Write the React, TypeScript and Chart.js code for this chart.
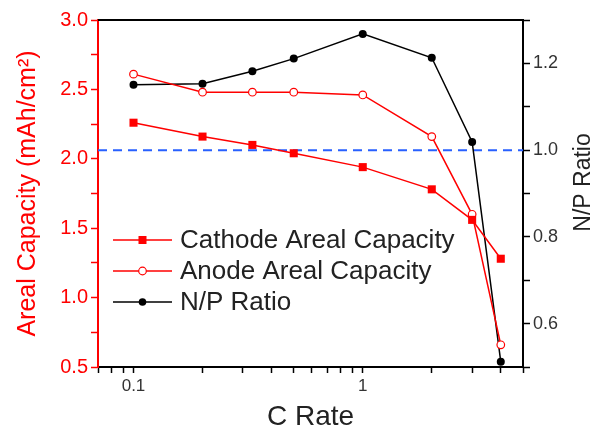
import React, { useEffect, useRef } from 'react';
import { Chart, registerables } from 'chart.js';

Chart.register(...registerables);

// ---- Data ----
const cRates = [0.1, 0.2, 0.33, 0.5, 1, 2, 3, 4];
const cathodeCapacity = [2.26, 2.16, 2.1, 2.04, 1.94, 1.78, 1.56, 1.28];
const anodeCapacity = [2.61, 2.48, 2.48, 2.48, 2.46, 2.16, 1.6, 0.66];
const npRatio = [1.151, 1.153, 1.182, 1.211, 1.268, 1.213, 1.019, 0.512];
const referenceRatio = 1.0;

// ---- Axes / tick labels ----
const xMin = 0.07;
const xMax = 5;
const xTickValues = [0.07, 0.08, 0.09, 0.1, 0.2, 0.3, 0.4, 0.5, 0.6, 0.7, 0.8, 0.9, 1, 2, 3, 4, 5];
const xTickLabels = ['0.1', '1'];
const yLeftMin = 0.5;
const yLeftMax = 3.0;
const yLeftLabels = ['0.5', '1.0', '1.5', '2.0', '2.5', '3.0'];
const yRightMin = 0.5;
const yRightMax = 1.3;
const yRightLabels = ['0.6', '0.8', '1.0', '1.2'];

const seriesNames = ['Cathode Areal Capacity', 'Anode Areal Capacity', 'N/P Ratio'];
const rightTitle = 'N/P Ratio';

const FONT = "'Liberation Sans', Arial, Helvetica, sans-serif";
const RED = '#ff0000';
const BLACK = '#000000';
const BLUE = '#2860ff';
const TEXT = '#222222';

export default function App() {
  const ref = useRef<HTMLCanvasElement>(null);

  useEffect(() => {
    const canvas = ref.current;
    if (!canvas) return;

    const framePlugin = {
      id: 'frameTop',
      afterDraw(chart: any) {
        const { ctx, chartArea } = chart;
        ctx.save();
        ctx.strokeStyle = BLACK;
        ctx.lineWidth = 2;
        ctx.beginPath();
        ctx.moveTo(chartArea.left, chartArea.top);
        ctx.lineTo(chartArea.right, chartArea.top);
        ctx.stroke();
        // right axis title, reading bottom-to-top
        const y2 = chart.scales.y2;
        ctx.fillStyle = TEXT;
        ctx.font = `23px ${FONT}`;
        ctx.textAlign = 'center';
        ctx.textBaseline = 'alphabetic';
        ctx.translate(y2.right - 4, (chartArea.top + chartArea.bottom) / 2 - 11);
        ctx.rotate(-Math.PI / 2);
        ctx.fillText(rightTitle, 0, 0);
        ctx.restore();
      },
    };

    const legendPlugin = {
      id: 'insideLegend',
      afterDraw(chart: any) {
        const { ctx, chartArea } = chart;
        const x0 = chartArea.left + 15;
        const x1 = chartArea.left + 74;
        const xm = (x0 + x1) / 2;
        const tx = chartArea.left + 82;
        const rows = [chartArea.top + 220, chartArea.top + 251, chartArea.top + 282];
        ctx.save();
        rows.forEach((y: number, i: number) => {
          const ds = chart.data.datasets[i];
          ctx.strokeStyle = ds.borderColor;
          ctx.lineWidth = 1.5;
          ctx.setLineDash([]);
          ctx.beginPath();
          ctx.moveTo(x0, y);
          ctx.lineTo(x1, y);
          ctx.stroke();
          if (i === 0) {
            ctx.fillStyle = RED;
            ctx.fillRect(xm - 4, y - 4, 8, 8);
          } else if (i === 1) {
            ctx.fillStyle = '#fff';
            ctx.beginPath();
            ctx.arc(xm, y, 3.8, 0, Math.PI * 2);
            ctx.fill();
            ctx.lineWidth = 1.2;
            ctx.stroke();
          } else {
            ctx.fillStyle = BLACK;
            ctx.beginPath();
            ctx.arc(xm, y, 3.8, 0, Math.PI * 2);
            ctx.fill();
          }
          ctx.fillStyle = TEXT;
          ctx.font = `26px ${FONT}`;
          ctx.textBaseline = 'middle';
          ctx.textAlign = 'left';
          ctx.fillText(seriesNames[i], tx, y + 1);
        });
        ctx.restore();
      },
    };

    const chart = new Chart(canvas, {
      type: 'line',
      data: {
        datasets: [
          {
            label: seriesNames[0],
            data: cRates.map((x, i) => ({ x, y: cathodeCapacity[i] })),
            yAxisID: 'y',
            borderColor: RED,
            backgroundColor: RED,
            borderWidth: 1.5,
            pointStyle: 'rect',
            pointRadius: 5.7,
            pointBorderWidth: 0,
            pointBackgroundColor: RED,
          },
          {
            label: seriesNames[1],
            data: cRates.map((x, i) => ({ x, y: anodeCapacity[i] })),
            yAxisID: 'y',
            borderColor: RED,
            backgroundColor: '#fff',
            borderWidth: 1.5,
            pointStyle: 'circle',
            pointRadius: 3.8,
            pointBorderWidth: 1.2,
            pointBackgroundColor: '#fff',
            pointBorderColor: RED,
          },
          {
            label: seriesNames[2],
            data: cRates.map((x, i) => ({ x, y: npRatio[i] })),
            yAxisID: 'y2',
            borderColor: BLACK,
            backgroundColor: BLACK,
            borderWidth: 1.5,
            pointStyle: 'circle',
            pointRadius: 4,
            pointBorderWidth: 0,
            pointBackgroundColor: BLACK,
          },
          {
            label: 'N/P = 1',
            data: [
              { x: xMin, y: referenceRatio },
              { x: xMax, y: referenceRatio },
            ],
            yAxisID: 'y2',
            borderColor: BLUE,
            borderWidth: 2,
            borderDash: [9, 6],
            pointRadius: 0,
          },
        ],
      },
      options: {
        responsive: false,
        animation: false,
        events: [],
        layout: { padding: { top: 20, left: 0, right: 0, bottom: 0 } },
        plugins: {
          legend: { display: false },
          tooltip: { enabled: false },
        },
        scales: {
          x: {
            type: 'logarithmic',
            position: 'bottom',
            min: xMin,
            max: xMax,
            afterBuildTicks: (s: any) => {
              s.ticks = xTickValues.map((v) => ({ value: v }));
            },
            afterFit: (s: any) => {
              s.height = 62;
            },
            grid: { drawOnChartArea: false, drawTicks: true, tickLength: 6, tickColor: BLACK, tickWidth: 1.5 },
            border: { color: BLACK, width: 2 },
            ticks: {
              autoSkip: false,
              maxRotation: 0,
              padding: 3,
              color: '#333',
              font: { family: FONT, size: 17 },
              callback: (v: any) => {
                const lbl = xTickLabels.find((t) => Math.abs(parseFloat(t) - Number(v)) < 1e-9);
                return lbl ?? '';
              },
            },
            title: {
              display: true,
              text: 'C Rate',
              color: TEXT,
              font: { family: FONT, size: 28, lineHeight: 1 },
              padding: { top: 0, bottom: -2 },
            },
          },
          y: {
            type: 'linear',
            position: 'left',
            min: yLeftMin,
            max: yLeftMax,
            afterFit: (s: any) => {
              s.width = 98;
            },
            grid: { drawOnChartArea: false, drawTicks: true, tickLength: 7, tickColor: RED, tickWidth: 1.5 },
            border: { color: RED, width: 2 },
            ticks: {
              stepSize: 0.25,
              autoSkip: false,
              padding: 3,
              color: RED,
              font: { family: FONT, size: 20 },
              callback: (v: any) => {
                const lbl = yLeftLabels.find((t) => Math.abs(parseFloat(t) - Number(v)) < 1e-6);
                return lbl ?? '';
              },
            },
            title: {
              display: true,
              text: 'Areal Capacity (mAh/cm²)',
              color: RED,
              font: { family: FONT, size: 25 },
              padding: { top: 13, bottom: 0 },
            },
          },
          y2: {
            type: 'linear',
            position: 'right',
            min: yRightMin,
            max: yRightMax,
            afterFit: (s: any) => {
              s.width = 71;
            },
            grid: { drawOnChartArea: false, drawTicks: true, tickLength: 7, tickColor: BLACK, tickWidth: 1.5 },
            border: { color: BLACK, width: 2 },
            ticks: {
              stepSize: 0.1,
              autoSkip: false,
              padding: 3,
              color: '#333',
              font: { family: FONT, size: 18 },
              callback: (v: any) => {
                const lbl = yRightLabels.find((t) => Math.abs(parseFloat(t) - Number(v)) < 1e-6);
                return lbl ?? '';
              },
            },
            title: { display: false },
          },
        },
      },
      plugins: [framePlugin, legendPlugin],
    });

    return () => chart.destroy();
  }, []);

  return (
    <div style={{ position: 'fixed', left: 0, top: 0, width: 594, height: 429, background: '#fff' }}>
      <canvas ref={ref} width={594} height={429} style={{ display: 'block', width: 594, height: 429 }} />
    </div>
  );
}
